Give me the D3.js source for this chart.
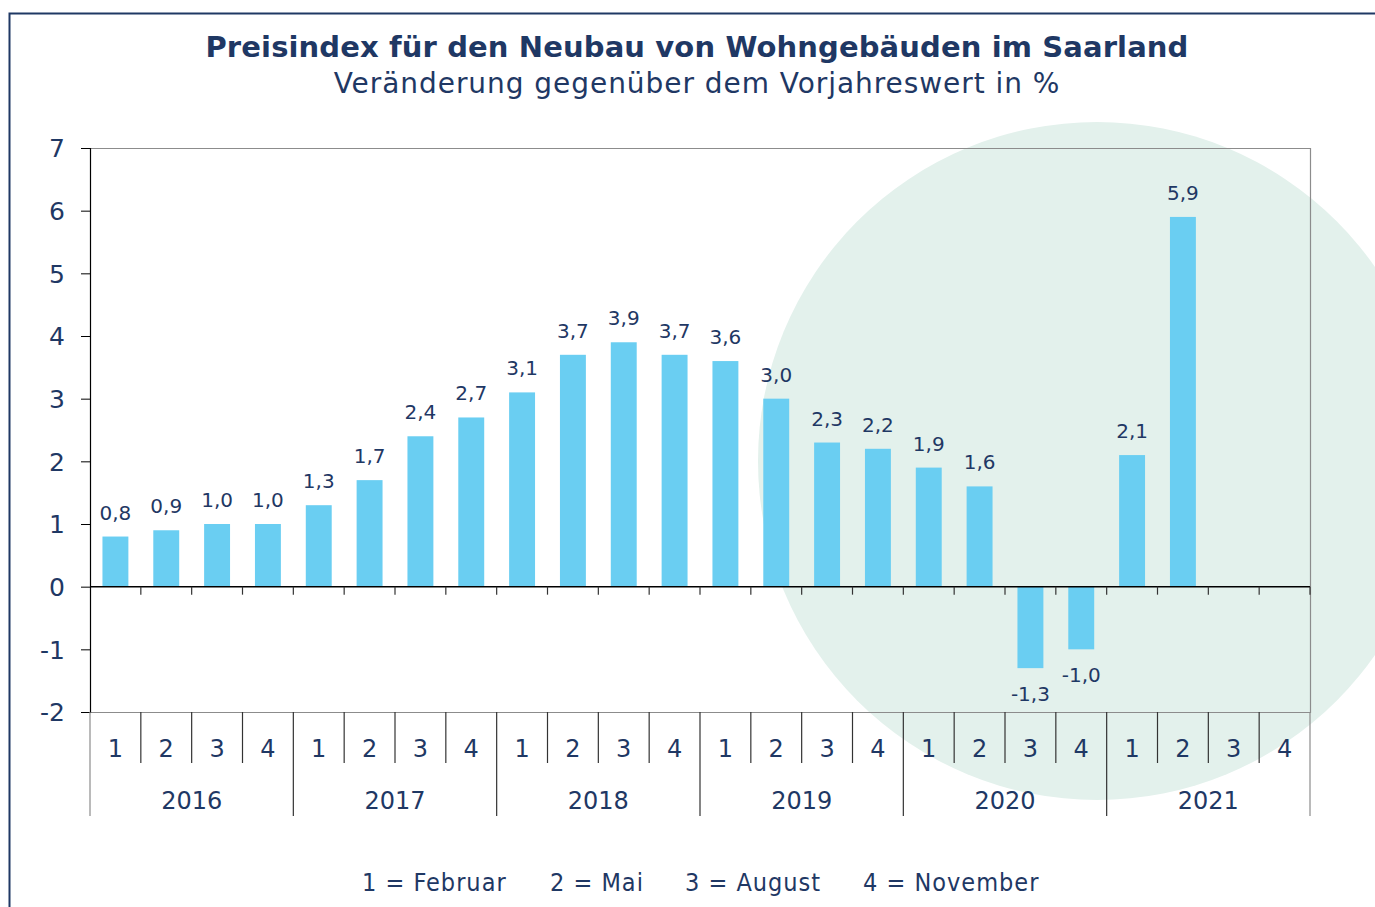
<!DOCTYPE html>
<html>
<head>
<meta charset="utf-8">
<script src="https://cdn.jsdelivr.net/npm/d3@7"></script>
<style>
  html, body { margin: 0; padding: 0; background: #fff; }
  svg { display: block; }
  text { font-family: "DejaVu Sans", Verdana, sans-serif; fill: #1f3864; }
</style>
</head>
<body>
<div id="chart"></div>
<script>
const WIDTH = 1375;
const HEIGHT = 907;

const years = ["2016", "2017", "2018", "2019", "2020", "2021"];
const quarters = ["1", "2", "3", "4"];
// Veränderung gegenüber Vorjahreswert in %, null = noch kein Wert
const values = [
  0.8, 0.9, 1.0, 1.0,
  1.3, 1.7, 2.4, 2.7,
  3.1, 3.7, 3.9, 3.7,
  3.6, 3.0, 2.3, 2.2,
  1.9, 1.6, -1.3, -1.0,
  2.1, 5.9, null, null
];
const yTicks = [-2, -1, 0, 1, 2, 3, 4, 5, 6, 7];
const legendItems = ["1 = Februar", "2 = Mai", "3 = August", "4 = November"];

const NAVY = "#1f3864";
const BAR = "#6acef2";

const categories = [];
years.forEach(y => quarters.forEach(q => categories.push({ key: y + "-" + q, year: y, q })));
const data = categories.map((c, i) => ({ ...c, v: values[i] }));

const plot = { left: 90, right: 1310, top: 148, bottom: 712 };

const svg = d3.select("#chart").append("svg")
  .attr("width", WIDTH)
  .attr("height", HEIGHT);

// deko-kreis im hintergrund
svg.append("circle")
  .attr("cx", 1097).attr("cy", 461).attr("r", 339)
  .attr("fill", "#e3f1ec");

// rahmen (links + oben)
svg.append("path")
  .attr("d", `M9.5,${HEIGHT} V13.5 H${WIDTH}`)
  .attr("fill", "none")
  .attr("stroke", NAVY)
  .attr("stroke-width", 2);

// titel
svg.append("text")
  .attr("x", 697).attr("y", 57)
  .attr("text-anchor", "middle")
  .style("font-size", "29px")
  .style("font-weight", "bold")
  .style("letter-spacing", "0.12px")
  .text("Preisindex für den Neubau von Wohngebäuden im Saarland");

svg.append("text")
  .attr("x", 697).attr("y", 93)
  .attr("text-anchor", "middle")
  .style("font-size", "28px")
  .style("letter-spacing", "0.95px")
  .text("Veränderung gegenüber dem Vorjahreswert in %");

const x = d3.scaleBand()
  .domain(categories.map(c => c.key))
  .range([plot.left, plot.right])
  .paddingInner(0.49)
  .paddingOuter(0.245);

const xStep = (plot.right - plot.left) / categories.length;

const y = d3.scaleLinear()
  .domain([-2, 7])
  .range([plot.bottom, plot.top]);

// plot-rahmen oben/rechts/unten
svg.append("path")
  .attr("d", `M${plot.left},${plot.top + 0.5} H${plot.right + 0.5} V${plot.bottom + 0.5} H${plot.left}`)
  .attr("fill", "none")
  .attr("stroke", "#8c8c8c")
  .attr("stroke-width", 1.2);

// balken
const bars = data.filter(d => d.v != null);
svg.append("g").selectAll("rect")
  .data(bars)
  .enter()
  .append("rect")
  .attr("x", d => x(d.key))
  .attr("width", x.bandwidth())
  .attr("y", d => y(Math.max(0, d.v)))
  .attr("height", d => Math.abs(y(d.v) - y(0)))
  .attr("fill", BAR);

// werte
const fmt = v => v.toFixed(1).replace(".", ",");
svg.append("g").selectAll("text")
  .data(bars)
  .enter()
  .append("text")
  .attr("x", d => x(d.key) + x.bandwidth() / 2)
  .attr("y", d => d.v >= 0 ? y(d.v) - 17 : y(d.v) + 33)
  .attr("text-anchor", "middle")
  .style("font-size", "20px")
  .text(d => fmt(d.v));

// y-achse
const yAxis = svg.append("g")
  .attr("transform", `translate(${plot.left},0)`)
  .call(d3.axisLeft(y).tickValues(yTicks).tickSize(9).tickPadding(16).tickFormat(d3.format("d")));
yAxis.select(".domain").attr("stroke", "#000").attr("stroke-width", 1.2);
yAxis.selectAll(".tick line").attr("stroke", "#000");
yAxis.selectAll(".tick text")
  .style("font-size", "25px")
  .attr("fill", NAVY)
  .attr("dy", "0.35em")
  .text(d => d < 0 ? "-" + Math.abs(d) : d);

// nulllinie mit ticks
const zeroY = y(0);
svg.append("line")
  .attr("x1", plot.left).attr("x2", plot.right)
  .attr("y1", zeroY).attr("y2", zeroY)
  .attr("stroke", "#000").attr("stroke-width", 1.5);

const bounds = d3.range(categories.length + 1).map(i => plot.left + i * xStep);
svg.append("g").selectAll("line")
  .data(bounds.slice(1))
  .enter()
  .append("line")
  .attr("x1", d => d).attr("x2", d => d)
  .attr("y1", zeroY).attr("y2", zeroY + 8)
  .attr("stroke", "#333").attr("stroke-width", 1.2);

// kategorie-achse unten: trenner
svg.append("g").selectAll("line")
  .data(bounds)
  .enter()
  .append("line")
  .attr("x1", d => d).attr("x2", d => d)
  .attr("y1", plot.bottom)
  .attr("y2", (d, i) => i % 4 === 0 ? 816 : 763)
  .attr("stroke", (d, i) => (i === 0 || i === categories.length) ? "#8c8c8c" : "#333")
  .attr("stroke-width", 1.2);

svg.append("g").selectAll("text")
  .data(data)
  .enter()
  .append("text")
  .attr("x", d => x(d.key) + x.bandwidth() / 2)
  .attr("y", 757)
  .attr("text-anchor", "middle")
  .style("font-size", "24px")
  .text(d => d.q);

svg.append("g").selectAll("text")
  .data(years)
  .enter()
  .append("text")
  .attr("x", (d, i) => plot.left + (i * 4 + 2) * xStep)
  .attr("y", 809)
  .attr("text-anchor", "middle")
  .style("font-size", "24px")
  .text(d => d);

// legende
const legendX = [362, 550, 685, 863];
svg.append("g").selectAll("text")
  .data(legendItems)
  .enter()
  .append("text")
  .attr("x", (d, i) => legendX[i])
  .attr("y", 891)
  .style("font-family", "'DejaVu Sans Condensed', 'DejaVu Sans', sans-serif")
  .style("font-stretch", "condensed")
  .style("font-size", "25px")
  .style("letter-spacing", "1px")
  .text(d => d);
</script>
</body>
</html>
